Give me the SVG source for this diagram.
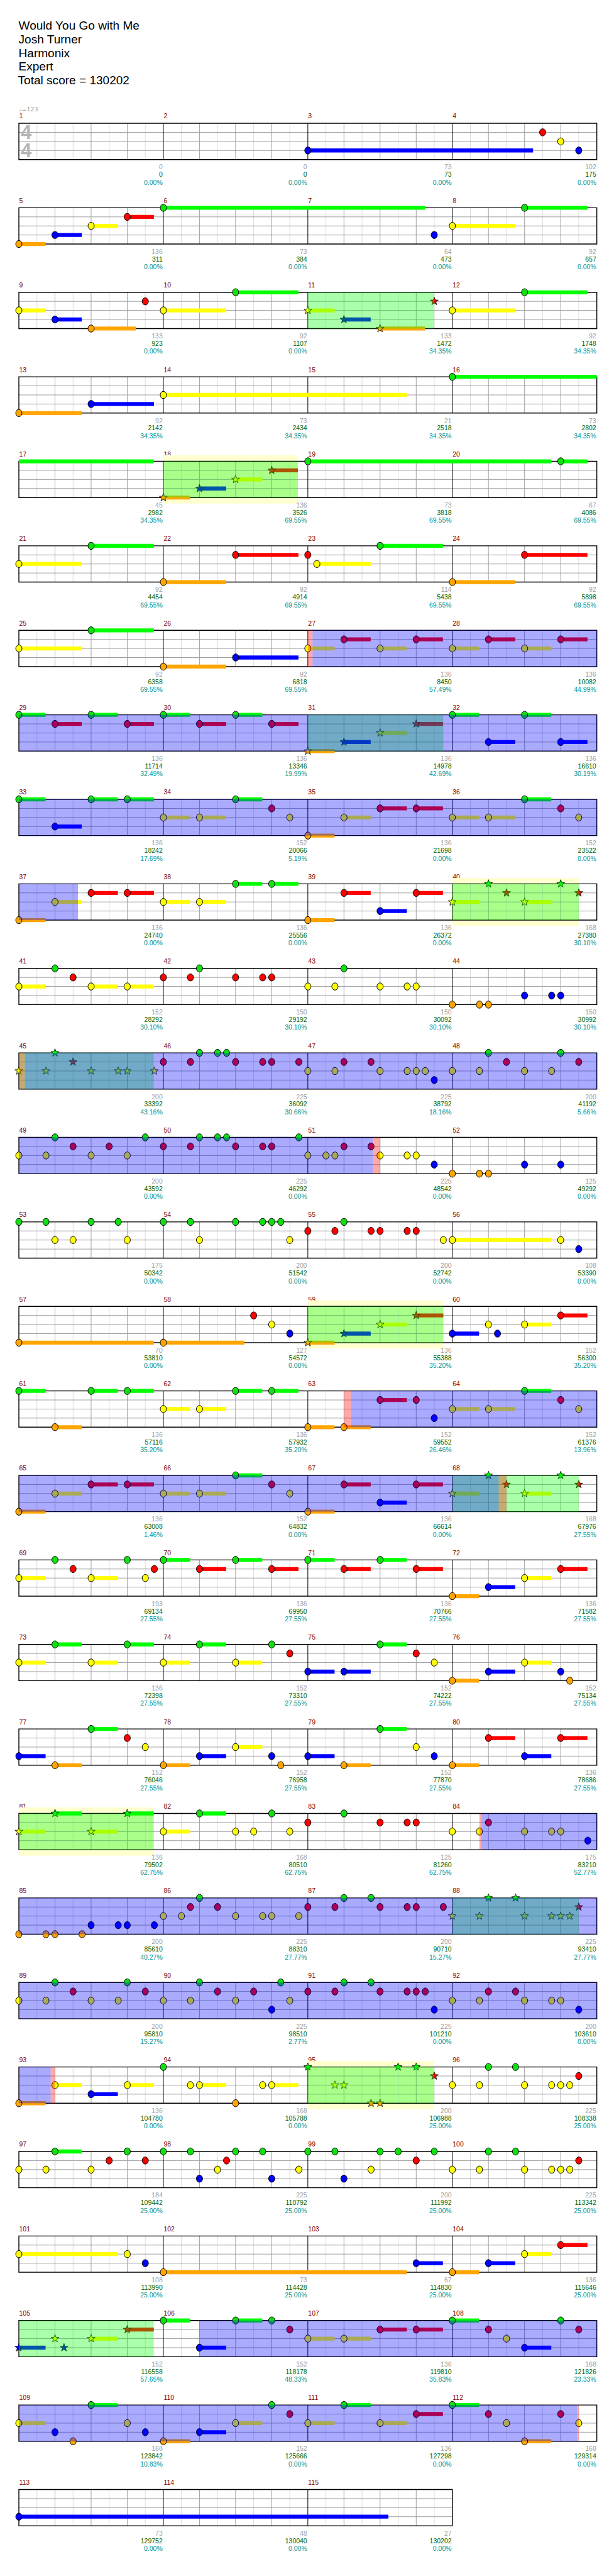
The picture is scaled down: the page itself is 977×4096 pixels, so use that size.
<svg xmlns="http://www.w3.org/2000/svg" width="977" height="4096" viewBox="0 0 977 4096">
<style>
text{font-family:"Liberation Sans",Arial,sans-serif}
.t{font-size:20px;fill:#000}
.m{font-size:11px;fill:#800000}
.a,.b,.c{font-size:11px;text-anchor:end}
.a{fill:#a0a0a0}.b{fill:#006400}.c{fill:#009696}
.gl{fill:none;stroke-width:1px;vector-effect:non-scaling-stroke}
.l8{stroke:#dcdcdc}.lb{stroke:#a0a0a0}.lm{stroke:#000}
.s{fill:none;stroke-width:6.6}
.sG{stroke:#0f0}.sR{stroke:#f00}.sY{stroke:#ff0}.sB{stroke:#00f}.sO{stroke:#ffa500}
.od{fill:#00f;fill-opacity:.333}
.sp{fill:#0f0;fill-opacity:.333}
.pk{fill:#f00;fill-opacity:.333}
.py{fill:#ffffd0}
</style>
<defs>
<ellipse id="nt" rx=".172" ry="6" stroke="#000" stroke-width="1" vector-effect="non-scaling-stroke"/>
<use id="G" href="#nt" fill="#10e010"/>
<use id="R" href="#nt" y="15.12" fill="#f00"/>
<use id="Y" href="#nt" y="30.25" fill="#ff0"/>
<use id="B" href="#nt" y="45.37" fill="#00f"/>
<use id="O" href="#nt" y="60.5" fill="#ffa500"/>
<path id="st" d="M0-7L.0547-2.27L.2208-2.16L.0882.87L.1363 5.66L0 2.8L-.1363 5.66L-.0882.87L-.2208-2.16L-.0547-2.27Z" stroke="#000" stroke-width=".8" vector-effect="non-scaling-stroke"/>
<use id="sG" href="#st" fill="#0f0"/>
<use id="sR" href="#st" y="15.12" fill="#f00"/>
<use id="sY" href="#st" y="30.25" fill="#ff0"/>
<use id="sB" href="#st" y="45.37" fill="#00f"/>
<use id="sO" href="#st" y="60.5" fill="#ffa500"/>
<g id="gr">
<path class="gl l8" d="M1 0V60.5M3 0V60.5M5 0V60.5M7 0V60.5M9 0V60.5M11 0V60.5M13 0V60.5M15 0V60.5M17 0V60.5M19 0V60.5M21 0V60.5M23 0V60.5M25 0V60.5M27 0V60.5M29 0V60.5M31 0V60.5"/>
<path class="gl lb" d="M2 0V60.5M4 0V60.5M6 0V60.5M10 0V60.5M12 0V60.5M14 0V60.5M18 0V60.5M20 0V60.5M22 0V60.5M26 0V60.5M28 0V60.5M30 0V60.5M0 15.12H32M0 30.25H32M0 45.37H32"/>
<path class="gl lm" d="M8 0V60.5M16 0V60.5M24 0V60.5"/>
<rect width="32" height="60.5" fill="none" stroke="#000" stroke-width="1.4" vector-effect="non-scaling-stroke"/>
</g>
<g id="gr3">
<path class="gl l8" d="M1 0V60.5M3 0V60.5M5 0V60.5M7 0V60.5M9 0V60.5M11 0V60.5M13 0V60.5M15 0V60.5M17 0V60.5M19 0V60.5M21 0V60.5M23 0V60.5"/>
<path class="gl lb" d="M2 0V60.5M4 0V60.5M6 0V60.5M10 0V60.5M12 0V60.5M14 0V60.5M18 0V60.5M20 0V60.5M22 0V60.5M0 15.12H24M0 30.25H24M0 45.37H24"/>
<path class="gl lm" d="M8 0V60.5M16 0V60.5"/>
<rect width="24" height="60.5" fill="none" stroke="#000" stroke-width="1.4" vector-effect="non-scaling-stroke"/>
</g>
</defs>
<rect width="977" height="4096" fill="#fff"/>
<g transform="scale(0.953)">
<g id="header">
<text class="t" x="31" y="49">Would You Go with Me</text>
<text class="t" x="31" y="72">Josh Turner</text>
<text class="t" x="31" y="95">Harmonix</text>
<text class="t" x="31" y="118">Expert</text>
<text class="t" x="30" y="141">Total score = 130202</text>
</g>

<g id="r1" transform="translate(0,205.7)">
<text x="31.5" y="-20" style="font-family:'DejaVu Sans',sans-serif;font-size:10px;fill:#a0a0a0">♩=123</text>
<text class="m" x="32" y="-8">1</text><text class="m" x="273.3" y="-8">2</text><text class="m" x="514.5" y="-8">3</text><text class="m" x="755.8" y="-8">4</text>
<g transform="translate(31.5,0) scale(30.156,1)">
<use href="#gr"/>
<path class="s sB" d="M16 45.37H28.47"/>
<use href="#B" x="16"/><use href="#R" x="29"/><use href="#Y" x="30"/><use href="#B" x="31"/>
</g>
<text x="35" y="26.5" style="font-size:32px;font-weight:bold;fill:#b4b4b4">4</text>
<text x="35" y="56.5" style="font-size:32px;font-weight:bold;fill:#b4b4b4">4</text>
<text class="a" x="271.5" y="77">0</text><text class="b" x="271.5" y="89.5">0</text><text class="c" x="271.5" y="102.5">0.00%</text>
<text class="a" x="512.8" y="77">0</text><text class="b" x="512.8" y="89.5">0</text><text class="c" x="512.8" y="102.5">0.00%</text>
<text class="a" x="754" y="77">73</text><text class="b" x="754" y="89.5">73</text><text class="c" x="754" y="102.5">0.00%</text>
<text class="a" x="995.5" y="77">102</text><text class="b" x="995.5" y="89.5">175</text><text class="c" x="995.5" y="102.5">0.00%</text>
</g>

<g id="r2" transform="translate(0,346.7)">
<text class="m" x="32" y="-8">5</text><text class="m" x="273.3" y="-8">6</text><text class="m" x="514.5" y="-8">7</text><text class="m" x="755.8" y="-8">8</text>
<g transform="translate(31.5,0) scale(30.156,1)">
<use href="#gr"/>
<path class="s sO" d="M0 60.5H1.48"/>
<path class="s sB" d="M2 45.37H3.48"/>
<path class="s sY" d="M4 30.25H5.48M24 30.25H27.48"/>
<path class="s sR" d="M6 15.12H7.48"/>
<path class="s sG" d="M8 0H22.5M28 0H31.48"/>
<use href="#O" x="0"/><use href="#B" x="2"/><use href="#Y" x="4"/><use href="#R" x="6"/><use href="#G" x="8"/><use href="#B" x="23"/><use href="#Y" x="24"/><use href="#G" x="28"/>
</g>
<text class="a" x="271.5" y="77">136</text><text class="b" x="271.5" y="89.5">311</text><text class="c" x="271.5" y="102.5">0.00%</text>
<text class="a" x="512.8" y="77">73</text><text class="b" x="512.8" y="89.5">384</text><text class="c" x="512.8" y="102.5">0.00%</text>
<text class="a" x="754" y="77">64</text><text class="b" x="754" y="89.5">473</text><text class="c" x="754" y="102.5">0.00%</text>
<text class="a" x="995.5" y="77">92</text><text class="b" x="995.5" y="89.5">657</text><text class="c" x="995.5" y="102.5">0.00%</text>
</g>

<g id="r3" transform="translate(0,487.7)">
<text class="m" x="32" y="-8">9</text><text class="m" x="273.3" y="-8">10</text><text class="m" x="514.5" y="-8">11</text><text class="m" x="755.8" y="-8">12</text>
<g transform="translate(31.5,0) scale(30.156,1)">
<use href="#gr"/>
<path class="s sY" d="M0 30.25H1.48M8 30.25H11.48M16 30.25H17.48M24 30.25H27.48"/>
<path class="s sB" d="M2 45.37H3.48M18 45.37H19.48"/>
<path class="s sO" d="M4 60.5H6.48M20 60.5H22.48"/>
<path class="s sG" d="M12 0H15.48M28 0H31.48"/>
<use href="#Y" x="0"/><use href="#B" x="2"/><use href="#O" x="4"/><use href="#R" x="7"/><use href="#Y" x="8"/><use href="#G" x="12"/><use href="#Y" x="24"/><use href="#G" x="28"/>
<use href="#sY" x="16"/><use href="#sB" x="18"/><use href="#sO" x="20"/><use href="#sR" x="23"/>
<rect class="sp" x="16" width="7" height="60.5"/>
</g>
<text class="a" x="271.5" y="77">133</text><text class="b" x="271.5" y="89.5">923</text><text class="c" x="271.5" y="102.5">0.00%</text>
<text class="a" x="512.8" y="77">92</text><text class="b" x="512.8" y="89.5">1107</text><text class="c" x="512.8" y="102.5">0.00%</text>
<text class="a" x="754" y="77">133</text><text class="b" x="754" y="89.5">1472</text><text class="c" x="754" y="102.5">34.35%</text>
<text class="a" x="995.5" y="77">92</text><text class="b" x="995.5" y="89.5">1748</text><text class="c" x="995.5" y="102.5">34.35%</text>
</g>

<g id="r4" transform="translate(0,628.7)">
<text class="m" x="32" y="-8">13</text><text class="m" x="273.3" y="-8">14</text><text class="m" x="514.5" y="-8">15</text><text class="m" x="755.8" y="-8">16</text>
<g transform="translate(31.5,0) scale(30.156,1)">
<use href="#gr"/>
<path class="s sO" d="M0 60.5H3.48"/>
<path class="s sB" d="M4 45.37H7.48"/>
<path class="s sY" d="M8 30.25H21.48"/>
<path class="s sG" d="M24 0H32"/>
<use href="#O" x="0"/><use href="#B" x="4"/><use href="#Y" x="8"/><use href="#G" x="24"/>
</g>
<text class="a" x="271.5" y="77">92</text><text class="b" x="271.5" y="89.5">2142</text><text class="c" x="271.5" y="102.5">34.35%</text>
<text class="a" x="512.8" y="77">73</text><text class="b" x="512.8" y="89.5">2434</text><text class="c" x="512.8" y="102.5">34.35%</text>
<text class="a" x="754" y="77">21</text><text class="b" x="754" y="89.5">2518</text><text class="c" x="754" y="102.5">34.35%</text>
<text class="a" x="995.5" y="77">73</text><text class="b" x="995.5" y="89.5">2802</text><text class="c" x="995.5" y="102.5">34.35%</text>
</g>

<g id="r5" transform="translate(0,769.7)">
<text class="m" x="32" y="-8">17</text><text class="m" x="273.3" y="-8">18</text><text class="m" x="514.5" y="-8">19</text><text class="m" x="755.8" y="-8">20</text>
<g transform="translate(31.5,0) scale(30.156,1)">
<rect class="py" x="8" y="-10" width="7.45" height="80.5"/>
<use href="#gr"/>
<path class="s sG" d="M0 0H7.47M16 0H29.48M30 0H31.48"/>
<path class="s sO" d="M8 60.5H9.48"/>
<path class="s sB" d="M10 45.37H11.48"/>
<path class="s sY" d="M12 30.25H13.48"/>
<path class="s sR" d="M14 15.12H15.45"/>
<use href="#sO" x="8"/><use href="#sB" x="10"/><use href="#sY" x="12"/><use href="#sR" x="14"/>
<use href="#G" x="16"/><use href="#G" x="30"/>
<rect class="sp" x="8" width="7.45" height="60.5"/>
</g>
<text class="a" x="271.5" y="77">45</text><text class="b" x="271.5" y="89.5">2982</text><text class="c" x="271.5" y="102.5">34.35%</text>
<text class="a" x="512.8" y="77">136</text><text class="b" x="512.8" y="89.5">3526</text><text class="c" x="512.8" y="102.5">69.55%</text>
<text class="a" x="754" y="77">73</text><text class="b" x="754" y="89.5">3818</text><text class="c" x="754" y="102.5">69.55%</text>
<text class="a" x="995.5" y="77">67</text><text class="b" x="995.5" y="89.5">4086</text><text class="c" x="995.5" y="102.5">69.55%</text>
</g>

<g id="r6" transform="translate(0,910.7)">
<text class="m" x="32" y="-8">21</text><text class="m" x="273.3" y="-8">22</text><text class="m" x="514.5" y="-8">23</text><text class="m" x="755.8" y="-8">24</text>
<g transform="translate(31.5,0) scale(30.156,1)">
<use href="#gr"/>
<path class="s sY" d="M0 30.25H3.48M16.5 30.25H19.48"/>
<path class="s sG" d="M4 0H7.48M20 0H23.48"/>
<path class="s sO" d="M8 60.5H11.48M24 60.5H27.48"/>
<path class="s sR" d="M12 15.12H15.48M28 15.12H31.48"/>
<use href="#Y" x="0"/><use href="#G" x="4"/><use href="#O" x="8"/><use href="#R" x="12"/><use href="#R" x="16"/><use href="#Y" x="16.5"/><use href="#G" x="20"/><use href="#O" x="24"/><use href="#R" x="28"/>
</g>
<text class="a" x="271.5" y="77">92</text><text class="b" x="271.5" y="89.5">4454</text><text class="c" x="271.5" y="102.5">69.55%</text>
<text class="a" x="512.8" y="77">92</text><text class="b" x="512.8" y="89.5">4914</text><text class="c" x="512.8" y="102.5">69.55%</text>
<text class="a" x="754" y="77">114</text><text class="b" x="754" y="89.5">5438</text><text class="c" x="754" y="102.5">69.55%</text>
<text class="a" x="995.5" y="77">92</text><text class="b" x="995.5" y="89.5">5898</text><text class="c" x="995.5" y="102.5">69.55%</text>
</g>

<g id="r7" transform="translate(0,1051.7)">
<text class="m" x="32" y="-8">25</text><text class="m" x="273.3" y="-8">26</text><text class="m" x="514.5" y="-8">27</text><text class="m" x="755.8" y="-8">28</text>
<g transform="translate(31.5,0) scale(30.156,1)">
<use href="#gr"/>
<path class="s sY" d="M0 30.25H3.48M16 30.25H17.48M20 30.25H21.48M24 30.25H25.48M28 30.25H29.48"/>
<path class="s sG" d="M4 0H7.48"/>
<path class="s sO" d="M8 60.5H11.48"/>
<path class="s sB" d="M12 45.37H15.48"/>
<path class="s sR" d="M18 15.12H19.48M22 15.12H23.48M26 15.12H27.48M30 15.12H31.48"/>
<use href="#Y" x="0"/><use href="#G" x="4"/><use href="#O" x="8"/><use href="#B" x="12"/><use href="#Y" x="16"/><use href="#R" x="18"/><use href="#Y" x="20"/><use href="#R" x="22"/><use href="#Y" x="24"/><use href="#R" x="26"/><use href="#Y" x="28"/><use href="#R" x="30"/>
<rect class="pk" x="16" width=".26" height="60.5"/>
<rect class="od" x="16.26" width="15.74" height="60.5"/>
</g>
<text class="a" x="271.5" y="77">92</text><text class="b" x="271.5" y="89.5">6358</text><text class="c" x="271.5" y="102.5">69.55%</text>
<text class="a" x="512.8" y="77">92</text><text class="b" x="512.8" y="89.5">6818</text><text class="c" x="512.8" y="102.5">69.55%</text>
<text class="a" x="754" y="77">136</text><text class="b" x="754" y="89.5">8450</text><text class="c" x="754" y="102.5">57.49%</text>
<text class="a" x="995.5" y="77">136</text><text class="b" x="995.5" y="89.5">10082</text><text class="c" x="995.5" y="102.5">44.99%</text>
</g>

<g id="r8" transform="translate(0,1192.7)">
<text class="m" x="32" y="-8">29</text><text class="m" x="273.3" y="-8">30</text><text class="m" x="514.5" y="-8">31</text><text class="m" x="755.8" y="-8">32</text>
<g transform="translate(31.5,0) scale(30.156,1)">
<use href="#gr"/>
<path class="s sG" d="M0 0H1.48M4 0H5.48M8 0H9.48M12 0H13.48M24 0H25.48M28 0H29.48"/>
<path class="s sR" d="M2 15.12H3.48M6 15.12H7.48M10 15.12H11.48M14 15.12H15.48M22 15.12H23.48"/>
<path class="s sO" d="M16 60.5H17.48"/>
<path class="s sB" d="M18 45.37H19.48M26 45.37H27.48M30 45.37H31.48"/>
<path class="s sY" d="M20 30.25H21.48"/>
<use href="#G" x="0"/><use href="#R" x="2"/><use href="#G" x="4"/><use href="#R" x="6"/><use href="#G" x="8"/><use href="#R" x="10"/><use href="#G" x="12"/><use href="#R" x="14"/><use href="#G" x="24"/><use href="#B" x="26"/><use href="#G" x="28"/><use href="#B" x="30"/>
<use href="#sO" x="16"/><use href="#sB" x="18"/><use href="#sY" x="20"/><use href="#sR" x="22"/>
<rect class="sp" x="16" width="7.5" height="60.5"/>
<rect class="od" x="0" width="32" height="60.5"/>
</g>
<text class="a" x="271.5" y="77">136</text><text class="b" x="271.5" y="89.5">11714</text><text class="c" x="271.5" y="102.5">32.49%</text>
<text class="a" x="512.8" y="77">136</text><text class="b" x="512.8" y="89.5">13346</text><text class="c" x="512.8" y="102.5">19.99%</text>
<text class="a" x="754" y="77">136</text><text class="b" x="754" y="89.5">14978</text><text class="c" x="754" y="102.5">42.69%</text>
<text class="a" x="995.5" y="77">136</text><text class="b" x="995.5" y="89.5">16610</text><text class="c" x="995.5" y="102.5">30.19%</text>
</g>

<g id="r9" transform="translate(0,1333.7)">
<text class="m" x="32" y="-8">33</text><text class="m" x="273.3" y="-8">34</text><text class="m" x="514.5" y="-8">35</text><text class="m" x="755.8" y="-8">36</text>
<g transform="translate(31.5,0) scale(30.156,1)">
<use href="#gr"/>
<path class="s sG" d="M0 0H1.48M4 0H5.48M6 0H7.48M12 0H13.48M28 0H29.48"/>
<path class="s sB" d="M2 45.37H3.48"/>
<path class="s sY" d="M8 30.25H9.48M10 30.25H11.48M18 30.25H19.48M24 30.25H25.48M26 30.25H27.48"/>
<path class="s sO" d="M16 60.5H17.48"/>
<path class="s sR" d="M20 15.12H21.48M22 15.12H23.48"/>
<use href="#G" x="0"/><use href="#B" x="2"/><use href="#G" x="4"/><use href="#G" x="6"/><use href="#Y" x="8"/><use href="#Y" x="10"/><use href="#G" x="12"/><use href="#R" x="14"/><use href="#Y" x="15"/><use href="#O" x="16"/><use href="#Y" x="18"/><use href="#R" x="20"/><use href="#R" x="22"/><use href="#Y" x="24"/><use href="#Y" x="26"/><use href="#G" x="28"/><use href="#R" x="30"/><use href="#Y" x="31"/>
<rect class="od" x="0" width="32" height="60.5"/>
</g>
<text class="a" x="271.5" y="77">136</text><text class="b" x="271.5" y="89.5">18242</text><text class="c" x="271.5" y="102.5">17.69%</text>
<text class="a" x="512.8" y="77">152</text><text class="b" x="512.8" y="89.5">20066</text><text class="c" x="512.8" y="102.5">5.19%</text>
<text class="a" x="754" y="77">136</text><text class="b" x="754" y="89.5">21698</text><text class="c" x="754" y="102.5">0.00%</text>
<text class="a" x="995.5" y="77">152</text><text class="b" x="995.5" y="89.5">23522</text><text class="c" x="995.5" y="102.5">0.00%</text>
</g>

<g id="r10" transform="translate(0,1474.7)">
<text class="m" x="32" y="-8">37</text><text class="m" x="273.3" y="-8">38</text><text class="m" x="514.5" y="-8">39</text><text class="m" x="755.8" y="-8">40</text>
<g transform="translate(31.5,0) scale(30.156,1)">
<rect class="py" x="24" y="-10" width="7" height="80.5"/>
<use href="#gr"/>
<path class="s sO" d="M0 60.5H1.48M16 60.5H17.48"/>
<path class="s sY" d="M2 30.25H3.48M8 30.25H9.48M10 30.25H11.48M24 30.25H25.48M28 30.25H29.48"/>
<path class="s sR" d="M4 15.12H5.48M6 15.12H7.48M18 15.12H19.48M22 15.12H23.48"/>
<path class="s sG" d="M12 0H13.48M14 0H15.48"/>
<path class="s sB" d="M20 45.37H21.48"/>
<use href="#O" x="0"/><use href="#Y" x="2"/><use href="#R" x="4"/><use href="#R" x="6"/><use href="#Y" x="8"/><use href="#Y" x="10"/><use href="#G" x="12"/><use href="#G" x="14"/><use href="#O" x="16"/><use href="#R" x="18"/><use href="#B" x="20"/><use href="#R" x="22"/>
<use href="#sY" x="24"/><use href="#sG" x="26"/><use href="#sR" x="27"/><use href="#sY" x="28"/><use href="#sG" x="30"/><use href="#sR" x="31"/>
<rect class="sp" x="24" width="7" height="60.5"/>
<rect class="od" x="0" width="3.27" height="60.5"/>
</g>
<text class="a" x="271.5" y="77">136</text><text class="b" x="271.5" y="89.5">24740</text><text class="c" x="271.5" y="102.5">0.00%</text>
<text class="a" x="512.8" y="77">136</text><text class="b" x="512.8" y="89.5">25556</text><text class="c" x="512.8" y="102.5">0.00%</text>
<text class="a" x="754" y="77">136</text><text class="b" x="754" y="89.5">26372</text><text class="c" x="754" y="102.5">0.00%</text>
<text class="a" x="995.5" y="77">168</text><text class="b" x="995.5" y="89.5">27380</text><text class="c" x="995.5" y="102.5">30.10%</text>
</g>

<g id="r11" transform="translate(0,1615.7)">
<text class="m" x="32" y="-8">41</text><text class="m" x="273.3" y="-8">42</text><text class="m" x="514.5" y="-8">43</text><text class="m" x="755.8" y="-8">44</text>
<g transform="translate(31.5,0) scale(30.156,1)">
<use href="#gr"/>
<path class="s sY" d="M0 30.25H1.48M4 30.25H5.48M6 30.25H7.48"/>
<use href="#Y" x="0"/><use href="#G" x="2"/><use href="#R" x="3"/><use href="#Y" x="4"/><use href="#Y" x="6"/><use href="#R" x="8"/><use href="#R" x="9.5"/><use href="#G" x="10"/><use href="#R" x="12"/><use href="#R" x="13.5"/><use href="#R" x="14"/><use href="#Y" x="16"/><use href="#Y" x="17.5"/><use href="#G" x="18"/><use href="#Y" x="20"/><use href="#Y" x="21.5"/><use href="#Y" x="22"/><use href="#O" x="24"/><use href="#O" x="25.5"/><use href="#O" x="26"/><use href="#B" x="28"/><use href="#B" x="29.5"/><use href="#B" x="30"/>
</g>
<text class="a" x="271.5" y="77">152</text><text class="b" x="271.5" y="89.5">28292</text><text class="c" x="271.5" y="102.5">30.10%</text>
<text class="a" x="512.8" y="77">150</text><text class="b" x="512.8" y="89.5">29192</text><text class="c" x="512.8" y="102.5">30.10%</text>
<text class="a" x="754" y="77">150</text><text class="b" x="754" y="89.5">30092</text><text class="c" x="754" y="102.5">30.10%</text>
<text class="a" x="995.5" y="77">150</text><text class="b" x="995.5" y="89.5">30992</text><text class="c" x="995.5" y="102.5">30.10%</text>
</g>

<g id="r12" transform="translate(0,1756.7)">
<text class="m" x="32" y="-8">45</text><text class="m" x="273.3" y="-8">46</text><text class="m" x="514.5" y="-8">47</text><text class="m" x="755.8" y="-8">48</text>
<g transform="translate(31.5,0) scale(30.156,1)">
<use href="#gr"/>
<use href="#sY" x="0"/><use href="#sY" x="1.5"/><use href="#sG" x="2"/><use href="#sR" x="3"/><use href="#sY" x="4"/><use href="#sY" x="5.5"/><use href="#sY" x="6"/><use href="#sY" x="7.5"/>
<use href="#R" x="8"/><use href="#R" x="9.5"/><use href="#G" x="10"/><use href="#G" x="11"/><use href="#G" x="11.5"/><use href="#R" x="12"/><use href="#R" x="13.5"/><use href="#R" x="14"/><use href="#R" x="15.5"/><use href="#Y" x="16"/><use href="#Y" x="17.5"/><use href="#R" x="18"/><use href="#R" x="19.5"/><use href="#Y" x="20"/><use href="#Y" x="21.5"/><use href="#Y" x="22"/><use href="#Y" x="22.5"/><use href="#B" x="23"/><use href="#Y" x="24"/><use href="#Y" x="25.5"/><use href="#G" x="26"/><use href="#R" x="27"/><use href="#Y" x="28"/><use href="#Y" x="29.5"/><use href="#G" x="30"/><use href="#R" x="31"/>
<rect class="sp" x="0" width="7.47" height="60.5"/>
<rect class="pk" x="0" width=".33" height="60.5"/>
<rect class="od" x=".33" width="31.67" height="60.5"/>
</g>
<text class="a" x="271.5" y="77">200</text><text class="b" x="271.5" y="89.5">33392</text><text class="c" x="271.5" y="102.5">43.16%</text>
<text class="a" x="512.8" y="77">225</text><text class="b" x="512.8" y="89.5">36092</text><text class="c" x="512.8" y="102.5">30.66%</text>
<text class="a" x="754" y="77">225</text><text class="b" x="754" y="89.5">38792</text><text class="c" x="754" y="102.5">18.16%</text>
<text class="a" x="995.5" y="77">200</text><text class="b" x="995.5" y="89.5">41192</text><text class="c" x="995.5" y="102.5">5.66%</text>
</g>

<g id="r13" transform="translate(0,1897.7)">
<text class="m" x="32" y="-8">49</text><text class="m" x="273.3" y="-8">50</text><text class="m" x="514.5" y="-8">51</text><text class="m" x="755.8" y="-8">52</text>
<g transform="translate(31.5,0) scale(30.156,1)">
<use href="#gr"/>
<use href="#Y" x="0"/><use href="#Y" x="1.5"/><use href="#G" x="2"/><use href="#R" x="3"/><use href="#Y" x="4"/><use href="#R" x="5"/><use href="#Y" x="6"/><use href="#G" x="7"/><use href="#R" x="8"/><use href="#R" x="9.5"/><use href="#G" x="10"/><use href="#G" x="11"/><use href="#G" x="11.5"/><use href="#R" x="12"/><use href="#R" x="13.5"/><use href="#R" x="14"/><use href="#G" x="15.5"/><use href="#Y" x="16"/><use href="#Y" x="17"/><use href="#Y" x="17.5"/><use href="#R" x="18"/><use href="#R" x="19.5"/><use href="#Y" x="20"/><use href="#Y" x="21.5"/><use href="#Y" x="22"/><use href="#B" x="23"/><use href="#O" x="24"/><use href="#O" x="25.5"/><use href="#O" x="26"/><use href="#B" x="28"/><use href="#B" x="30"/>
<rect class="od" x="0" width="19.6" height="60.5"/>
<rect class="pk" x="19.6" width=".4" height="60.5"/>
</g>
<text class="a" x="271.5" y="77">200</text><text class="b" x="271.5" y="89.5">43592</text><text class="c" x="271.5" y="102.5">0.00%</text>
<text class="a" x="512.8" y="77">225</text><text class="b" x="512.8" y="89.5">46292</text><text class="c" x="512.8" y="102.5">0.00%</text>
<text class="a" x="754" y="77">225</text><text class="b" x="754" y="89.5">48542</text><text class="c" x="754" y="102.5">0.00%</text>
<text class="a" x="995.5" y="77">125</text><text class="b" x="995.5" y="89.5">49292</text><text class="c" x="995.5" y="102.5">0.00%</text>
</g>

<g id="r14" transform="translate(0,2038.7)">
<text class="m" x="32" y="-8">53</text><text class="m" x="273.3" y="-8">54</text><text class="m" x="514.5" y="-8">55</text><text class="m" x="755.8" y="-8">56</text>
<g transform="translate(31.5,0) scale(30.156,1)">
<use href="#gr"/>
<path class="s sY" d="M24 30.25H29.48"/>
<use href="#G" x="0"/><use href="#G" x="1.5"/><use href="#Y" x="2"/><use href="#Y" x="3"/><use href="#G" x="4"/><use href="#G" x="5.5"/><use href="#Y" x="6"/><use href="#G" x="8"/><use href="#G" x="9.5"/><use href="#Y" x="10"/><use href="#G" x="12"/><use href="#G" x="13.5"/><use href="#G" x="14"/><use href="#G" x="14.5"/><use href="#Y" x="15"/><use href="#R" x="16"/><use href="#R" x="17.5"/><use href="#G" x="18"/><use href="#R" x="19.5"/><use href="#R" x="20"/><use href="#R" x="21.5"/><use href="#R" x="22"/><use href="#Y" x="23.5"/><use href="#Y" x="24"/><use href="#Y" x="30"/><use href="#B" x="31"/>
</g>
<text class="a" x="271.5" y="77">175</text><text class="b" x="271.5" y="89.5">50342</text><text class="c" x="271.5" y="102.5">0.00%</text>
<text class="a" x="512.8" y="77">200</text><text class="b" x="512.8" y="89.5">51542</text><text class="c" x="512.8" y="102.5">0.00%</text>
<text class="a" x="754" y="77">200</text><text class="b" x="754" y="89.5">52742</text><text class="c" x="754" y="102.5">0.00%</text>
<text class="a" x="995.5" y="77">108</text><text class="b" x="995.5" y="89.5">53390</text><text class="c" x="995.5" y="102.5">0.00%</text>
</g>

<g id="r15" transform="translate(0,2179.7)">
<text class="m" x="32" y="-8">57</text><text class="m" x="273.3" y="-8">58</text><text class="m" x="514.5" y="-8">59</text><text class="m" x="755.8" y="-8">60</text>
<g transform="translate(31.5,0) scale(30.156,1)">
<rect class="py" x="16" y="-10" width="7.5" height="80.5"/>
<use href="#gr"/>
<path class="s sO" d="M0 60.5H7.47M8 60.5H12.49M16 60.5H17.48"/>
<path class="s sB" d="M18 45.37H19.48M24 45.37H25.48"/>
<path class="s sY" d="M20 30.25H21.48M28 30.25H29.48"/>
<path class="s sR" d="M22 15.12H23.5M30 15.12H31.48"/>
<use href="#O" x="0"/><use href="#O" x="8"/><use href="#R" x="13"/><use href="#Y" x="14"/><use href="#B" x="15"/><use href="#B" x="24"/><use href="#Y" x="26"/><use href="#B" x="26.5"/><use href="#Y" x="28"/><use href="#R" x="30"/>
<use href="#sO" x="16"/><use href="#sB" x="18"/><use href="#sY" x="20"/><use href="#sR" x="22"/>
<rect class="sp" x="16" width="7.5" height="60.5"/>
</g>
<text class="a" x="271.5" y="77">70</text><text class="b" x="271.5" y="89.5">53810</text><text class="c" x="271.5" y="102.5">0.00%</text>
<text class="a" x="512.8" y="77">127</text><text class="b" x="512.8" y="89.5">54572</text><text class="c" x="512.8" y="102.5">0.00%</text>
<text class="a" x="754" y="77">136</text><text class="b" x="754" y="89.5">55388</text><text class="c" x="754" y="102.5">35.20%</text>
<text class="a" x="995.5" y="77">152</text><text class="b" x="995.5" y="89.5">56300</text><text class="c" x="995.5" y="102.5">35.20%</text>
</g>

<g id="r16" transform="translate(0,2320.7)">
<text class="m" x="32" y="-8">61</text><text class="m" x="273.3" y="-8">62</text><text class="m" x="514.5" y="-8">63</text><text class="m" x="755.8" y="-8">64</text>
<g transform="translate(31.5,0) scale(30.156,1)">
<use href="#gr"/>
<path class="s sG" d="M0 0H1.48M4 0H5.48M6 0H7.48M12 0H13.48M14 0H15.48M28 0H29.48"/>
<path class="s sO" d="M2 60.5H3.48M16 60.5H17.48M18 60.5H19.48"/>
<path class="s sY" d="M8 30.25H9.48M10 30.25H11.48M24 30.25H25.48M26 30.25H27.48"/>
<path class="s sR" d="M20 15.12H21.48"/>
<use href="#G" x="0"/><use href="#O" x="2"/><use href="#G" x="4"/><use href="#G" x="6"/><use href="#Y" x="8"/><use href="#Y" x="10"/><use href="#G" x="12"/><use href="#G" x="14"/><use href="#O" x="16"/><use href="#O" x="18"/><use href="#R" x="20"/><use href="#R" x="22"/><use href="#B" x="23"/><use href="#Y" x="24"/><use href="#Y" x="26"/><use href="#G" x="28"/><use href="#R" x="30"/><use href="#Y" x="31"/>
<rect class="pk" x="18" width=".4" height="60.5"/>
<rect class="od" x="18.4" width="13.6" height="60.5"/>
</g>
<text class="a" x="271.5" y="77">136</text><text class="b" x="271.5" y="89.5">57116</text><text class="c" x="271.5" y="102.5">35.20%</text>
<text class="a" x="512.8" y="77">136</text><text class="b" x="512.8" y="89.5">57932</text><text class="c" x="512.8" y="102.5">35.20%</text>
<text class="a" x="754" y="77">152</text><text class="b" x="754" y="89.5">59552</text><text class="c" x="754" y="102.5">26.46%</text>
<text class="a" x="995.5" y="77">152</text><text class="b" x="995.5" y="89.5">61376</text><text class="c" x="995.5" y="102.5">13.96%</text>
</g>

<g id="r17" transform="translate(0,2461.7)">
<text class="m" x="32" y="-8">65</text><text class="m" x="273.3" y="-8">66</text><text class="m" x="514.5" y="-8">67</text><text class="m" x="755.8" y="-8">68</text>
<g transform="translate(31.5,0) scale(30.156,1)">
<use href="#gr"/>
<path class="s sO" d="M0 60.5H1.48M16 60.5H17.48"/>
<path class="s sY" d="M2 30.25H3.48M8 30.25H9.48M10 30.25H11.48M24 30.25H25.48M28 30.25H29.48"/>
<path class="s sR" d="M4 15.12H5.48M6 15.12H7.48M18 15.12H19.48M22 15.12H23.48"/>
<path class="s sG" d="M12 0H13.48"/>
<path class="s sB" d="M20 45.37H21.48"/>
<use href="#O" x="0"/><use href="#Y" x="2"/><use href="#R" x="4"/><use href="#R" x="6"/><use href="#Y" x="8"/><use href="#Y" x="10"/><use href="#G" x="12"/><use href="#R" x="14"/><use href="#Y" x="15"/><use href="#O" x="16"/><use href="#R" x="18"/><use href="#B" x="20"/><use href="#R" x="22"/>
<use href="#sY" x="24"/><use href="#sG" x="26"/><use href="#sR" x="27"/><use href="#sY" x="28"/><use href="#sG" x="30"/><use href="#sR" x="31"/>
<rect class="sp" x="24" width="7" height="60.5"/>
<rect class="od" x="0" width="26.57" height="60.5"/>
<rect class="pk" x="26.57" width=".43" height="60.5"/>
</g>
<text class="a" x="271.5" y="77">136</text><text class="b" x="271.5" y="89.5">63008</text><text class="c" x="271.5" y="102.5">1.46%</text>
<text class="a" x="512.8" y="77">152</text><text class="b" x="512.8" y="89.5">64832</text><text class="c" x="512.8" y="102.5">0.00%</text>
<text class="a" x="754" y="77">136</text><text class="b" x="754" y="89.5">66614</text><text class="c" x="754" y="102.5">0.00%</text>
<text class="a" x="995.5" y="77">168</text><text class="b" x="995.5" y="89.5">67976</text><text class="c" x="995.5" y="102.5">27.55%</text>
</g>

<g id="r18" transform="translate(0,2602.7)">
<text class="m" x="32" y="-8">69</text><text class="m" x="273.3" y="-8">70</text><text class="m" x="514.5" y="-8">71</text><text class="m" x="755.8" y="-8">72</text>
<g transform="translate(31.5,0) scale(30.156,1)">
<use href="#gr"/>
<path class="s sY" d="M0 30.25H1.48M4 30.25H5.48M28 30.25H29.48"/>
<path class="s sG" d="M8 0H9.48M12 0H13.48M16 0H17.48M20 0H21.48"/>
<path class="s sR" d="M10 15.12H11.48M14 15.12H15.48M18 15.12H19.48M22 15.12H23.48M30 15.12H31.48"/>
<path class="s sO" d="M24 60.5H25.48"/>
<path class="s sB" d="M26 45.37H27.48"/>
<use href="#Y" x="0"/><use href="#G" x="2"/><use href="#R" x="3"/><use href="#Y" x="4"/><use href="#G" x="6"/><use href="#Y" x="7"/><use href="#R" x="7.5"/><use href="#G" x="8"/><use href="#R" x="10"/><use href="#G" x="12"/><use href="#R" x="14"/><use href="#G" x="16"/><use href="#R" x="18"/><use href="#G" x="20"/><use href="#R" x="22"/><use href="#O" x="24"/><use href="#B" x="26"/><use href="#Y" x="28"/><use href="#R" x="30"/>
</g>
<text class="a" x="271.5" y="77">193</text><text class="b" x="271.5" y="89.5">69134</text><text class="c" x="271.5" y="102.5">27.55%</text>
<text class="a" x="512.8" y="77">136</text><text class="b" x="512.8" y="89.5">69950</text><text class="c" x="512.8" y="102.5">27.55%</text>
<text class="a" x="754" y="77">136</text><text class="b" x="754" y="89.5">70766</text><text class="c" x="754" y="102.5">27.55%</text>
<text class="a" x="995.5" y="77">136</text><text class="b" x="995.5" y="89.5">71582</text><text class="c" x="995.5" y="102.5">27.55%</text>
</g>

<g id="r19" transform="translate(0,2743.7)">
<text class="m" x="32" y="-8">73</text><text class="m" x="273.3" y="-8">74</text><text class="m" x="514.5" y="-8">75</text><text class="m" x="755.8" y="-8">76</text>
<g transform="translate(31.5,0) scale(30.156,1)">
<use href="#gr"/>
<path class="s sY" d="M0 30.25H1.48M4 30.25H5.48M8 30.25H9.48M12 30.25H13.48M28 30.25H29.48"/>
<path class="s sG" d="M2 0H3.48M6 0H7.48M10 0H11.48M20 0H21.48"/>
<path class="s sB" d="M16 45.37H17.48M18 45.37H19.48M26 45.37H27.48"/>
<path class="s sO" d="M24 60.5H25.48"/>
<use href="#Y" x="0"/><use href="#G" x="2"/><use href="#Y" x="4"/><use href="#G" x="6"/><use href="#Y" x="8"/><use href="#G" x="10"/><use href="#Y" x="12"/><use href="#G" x="14"/><use href="#R" x="15"/><use href="#B" x="16"/><use href="#B" x="18"/><use href="#G" x="20"/><use href="#R" x="22"/><use href="#Y" x="23"/><use href="#O" x="24"/><use href="#B" x="26"/><use href="#Y" x="28"/><use href="#B" x="30"/><use href="#O" x="30.5"/>
</g>
<text class="a" x="271.5" y="77">136</text><text class="b" x="271.5" y="89.5">72398</text><text class="c" x="271.5" y="102.5">27.55%</text>
<text class="a" x="512.8" y="77">152</text><text class="b" x="512.8" y="89.5">73310</text><text class="c" x="512.8" y="102.5">27.55%</text>
<text class="a" x="754" y="77">152</text><text class="b" x="754" y="89.5">74222</text><text class="c" x="754" y="102.5">27.55%</text>
<text class="a" x="995.5" y="77">152</text><text class="b" x="995.5" y="89.5">75134</text><text class="c" x="995.5" y="102.5">27.55%</text>
</g>

<g id="r20" transform="translate(0,2884.7)">
<text class="m" x="32" y="-8">77</text><text class="m" x="273.3" y="-8">78</text><text class="m" x="514.5" y="-8">79</text><text class="m" x="755.8" y="-8">80</text>
<g transform="translate(31.5,0) scale(30.156,1)">
<use href="#gr"/>
<path class="s sB" d="M0 45.37H1.48M10 45.37H11.48M16 45.37H17.48M28 45.37H29.48"/>
<path class="s sO" d="M2 60.5H3.48M8 60.5H9.48M18 60.5H19.48M24 60.5H25.48"/>
<path class="s sG" d="M4 0H5.48M20 0H21.48"/>
<path class="s sY" d="M12 30.25H13.48"/>
<path class="s sR" d="M26 15.12H27.48M30 15.12H31.48"/>
<use href="#B" x="0"/><use href="#O" x="2"/><use href="#G" x="4"/><use href="#R" x="6"/><use href="#Y" x="7"/><use href="#O" x="8"/><use href="#B" x="10"/><use href="#Y" x="12"/><use href="#B" x="14"/><use href="#O" x="14.5"/><use href="#B" x="16"/><use href="#O" x="18"/><use href="#G" x="20"/><use href="#Y" x="22"/><use href="#B" x="23"/><use href="#O" x="24"/><use href="#R" x="26"/><use href="#B" x="28"/><use href="#R" x="30"/>
</g>
<text class="a" x="271.5" y="77">152</text><text class="b" x="271.5" y="89.5">76046</text><text class="c" x="271.5" y="102.5">27.55%</text>
<text class="a" x="512.8" y="77">152</text><text class="b" x="512.8" y="89.5">76958</text><text class="c" x="512.8" y="102.5">27.55%</text>
<text class="a" x="754" y="77">152</text><text class="b" x="754" y="89.5">77870</text><text class="c" x="754" y="102.5">27.55%</text>
<text class="a" x="995.5" y="77">136</text><text class="b" x="995.5" y="89.5">78686</text><text class="c" x="995.5" y="102.5">27.55%</text>
</g>

<g id="r21" transform="translate(0,3025.7)">
<text class="m" x="32" y="-8">81</text><text class="m" x="273.3" y="-8">82</text><text class="m" x="514.5" y="-8">83</text><text class="m" x="755.8" y="-8">84</text>
<g transform="translate(31.5,0) scale(30.156,1)">
<rect class="py" x="0" y="-10" width="7.47" height="80.5"/>
<use href="#gr"/>
<path class="s sY" d="M0 30.25H1.48M4 30.25H5.48M8 30.25H9.48"/>
<path class="s sG" d="M2 0H3.48M6 0H7.47M10 0H11.48"/>
<use href="#sY" x="0"/><use href="#sG" x="2"/><use href="#sY" x="4"/><use href="#sG" x="6"/>
<use href="#Y" x="8"/><use href="#G" x="10"/><use href="#Y" x="12"/><use href="#Y" x="13"/><use href="#G" x="14"/><use href="#Y" x="15"/><use href="#R" x="16"/><use href="#G" x="18"/><use href="#R" x="20"/><use href="#R" x="21.5"/><use href="#R" x="22"/><use href="#Y" x="24"/><use href="#Y" x="25.5"/><use href="#R" x="26"/><use href="#Y" x="28"/><use href="#Y" x="29.5"/><use href="#Y" x="30"/><use href="#B" x="31.5"/>
<rect class="sp" x="0" width="7.47" height="60.5"/>
<rect class="pk" x="25.5" width=".1" height="60.5"/>
<rect class="od" x="25.6" width="6.4" height="60.5"/>
</g>
<text class="a" x="271.5" y="77">136</text><text class="b" x="271.5" y="89.5">79502</text><text class="c" x="271.5" y="102.5">62.75%</text>
<text class="a" x="512.8" y="77">168</text><text class="b" x="512.8" y="89.5">80510</text><text class="c" x="512.8" y="102.5">62.75%</text>
<text class="a" x="754" y="77">125</text><text class="b" x="754" y="89.5">81260</text><text class="c" x="754" y="102.5">62.75%</text>
<text class="a" x="995.5" y="77">175</text><text class="b" x="995.5" y="89.5">83210</text><text class="c" x="995.5" y="102.5">52.77%</text>
</g>

<g id="r22" transform="translate(0,3166.7)">
<text class="m" x="32" y="-8">85</text><text class="m" x="273.3" y="-8">86</text><text class="m" x="514.5" y="-8">87</text><text class="m" x="755.8" y="-8">88</text>
<g transform="translate(31.5,0) scale(30.156,1)">
<use href="#gr"/>
<use href="#O" x="0"/><use href="#O" x="1.5"/><use href="#O" x="2"/><use href="#O" x="3.5"/><use href="#B" x="4"/><use href="#B" x="5.5"/><use href="#B" x="6"/><use href="#B" x="7.5"/><use href="#Y" x="8"/><use href="#Y" x="9"/><use href="#R" x="9.5"/><use href="#G" x="10"/><use href="#R" x="11"/><use href="#Y" x="12"/><use href="#Y" x="13.5"/><use href="#Y" x="14"/><use href="#Y" x="15.5"/><use href="#R" x="16"/><use href="#R" x="17.5"/><use href="#G" x="18"/><use href="#G" x="19.5"/><use href="#R" x="20"/><use href="#R" x="21.5"/><use href="#R" x="22"/><use href="#R" x="23.5"/>
<use href="#sY" x="24"/><use href="#sY" x="25.5"/><use href="#sG" x="26"/><use href="#sG" x="27.5"/><use href="#sY" x="28"/><use href="#sY" x="29.5"/><use href="#sY" x="30"/><use href="#sY" x="30.5"/><use href="#sR" x="31"/>
<rect class="sp" x="24" width="7" height="60.5"/>
<rect class="od" x="0" width="32" height="60.5"/>
</g>
<text class="a" x="271.5" y="77">200</text><text class="b" x="271.5" y="89.5">85610</text><text class="c" x="271.5" y="102.5">40.27%</text>
<text class="a" x="512.8" y="77">225</text><text class="b" x="512.8" y="89.5">88310</text><text class="c" x="512.8" y="102.5">27.77%</text>
<text class="a" x="754" y="77">200</text><text class="b" x="754" y="89.5">90710</text><text class="c" x="754" y="102.5">15.27%</text>
<text class="a" x="995.5" y="77">225</text><text class="b" x="995.5" y="89.5">93410</text><text class="c" x="995.5" y="102.5">27.77%</text>
</g>

<g id="r23" transform="translate(0,3307.7)">
<text class="m" x="32" y="-8">89</text><text class="m" x="273.3" y="-8">90</text><text class="m" x="514.5" y="-8">91</text><text class="m" x="755.8" y="-8">92</text>
<g transform="translate(31.5,0) scale(30.156,1)">
<use href="#gr"/>
<use href="#Y" x="0"/><use href="#Y" x="1.5"/><use href="#G" x="2"/><use href="#R" x="3"/><use href="#Y" x="4"/><use href="#Y" x="5.5"/><use href="#G" x="6"/><use href="#R" x="7"/><use href="#Y" x="8"/><use href="#Y" x="9.5"/><use href="#G" x="10"/><use href="#R" x="11"/><use href="#Y" x="12"/><use href="#R" x="13"/><use href="#B" x="14"/><use href="#G" x="14.5"/><use href="#Y" x="15"/><use href="#R" x="16"/><use href="#R" x="17.5"/><use href="#G" x="18"/><use href="#G" x="19.5"/><use href="#R" x="20"/><use href="#R" x="21.5"/><use href="#R" x="22"/><use href="#R" x="22.5"/><use href="#B" x="23"/><use href="#Y" x="24"/><use href="#Y" x="25.5"/><use href="#R" x="26"/><use href="#R" x="27.5"/><use href="#Y" x="28"/><use href="#Y" x="29.5"/><use href="#Y" x="30"/><use href="#B" x="31"/>
<rect class="od" x="0" width="32" height="60.5"/>
</g>
<text class="a" x="271.5" y="77">200</text><text class="b" x="271.5" y="89.5">95810</text><text class="c" x="271.5" y="102.5">15.27%</text>
<text class="a" x="512.8" y="77">225</text><text class="b" x="512.8" y="89.5">98510</text><text class="c" x="512.8" y="102.5">2.77%</text>
<text class="a" x="754" y="77">225</text><text class="b" x="754" y="89.5">101210</text><text class="c" x="754" y="102.5">0.00%</text>
<text class="a" x="995.5" y="77">200</text><text class="b" x="995.5" y="89.5">103610</text><text class="c" x="995.5" y="102.5">0.00%</text>
</g>

<g id="r24" transform="translate(0,3448.7)">
<text class="m" x="32" y="-8">93</text><text class="m" x="273.3" y="-8">94</text><text class="m" x="514.5" y="-8">95</text><text class="m" x="755.8" y="-8">96</text>
<g transform="translate(31.5,0) scale(30.156,1)">
<rect class="py" x="16" y="-10" width="7" height="80.5"/>
<use href="#gr"/>
<path class="s sO" d="M0 60.5H1.48"/>
<path class="s sY" d="M2 30.25H3.48M6 30.25H7.48M10 30.25H11.48M14 30.25H15.48"/>
<path class="s sB" d="M4 45.37H5.48"/>
<use href="#O" x="0"/><use href="#Y" x="2"/><use href="#B" x="4"/><use href="#Y" x="6"/><use href="#G" x="8"/><use href="#Y" x="9.5"/><use href="#Y" x="10"/><use href="#O" x="12"/><use href="#Y" x="13.5"/><use href="#Y" x="14"/><use href="#Y" x="24"/><use href="#Y" x="25.5"/><use href="#G" x="26"/><use href="#G" x="27.5"/><use href="#Y" x="28"/><use href="#Y" x="29.5"/><use href="#Y" x="30"/><use href="#Y" x="30.5"/><use href="#R" x="31"/>
<use href="#sG" x="16"/><use href="#sY" x="17.5"/><use href="#sY" x="18"/><use href="#sO" x="19.5"/><use href="#sO" x="20"/><use href="#sG" x="21"/><use href="#sG" x="22"/><use href="#sR" x="23"/>
<rect class="sp" x="16" width="7" height="60.5"/>
<rect class="od" x="0" width="1.76" height="60.5"/>
<rect class="pk" x="1.76" width=".24" height="60.5"/>
</g>
<text class="a" x="271.5" y="77">136</text><text class="b" x="271.5" y="89.5">104780</text><text class="c" x="271.5" y="102.5">0.00%</text>
<text class="a" x="512.8" y="77">168</text><text class="b" x="512.8" y="89.5">105788</text><text class="c" x="512.8" y="102.5">0.00%</text>
<text class="a" x="754" y="77">200</text><text class="b" x="754" y="89.5">106988</text><text class="c" x="754" y="102.5">25.00%</text>
<text class="a" x="995.5" y="77">225</text><text class="b" x="995.5" y="89.5">108338</text><text class="c" x="995.5" y="102.5">25.00%</text>
</g>

<g id="r25" transform="translate(0,3589.7)">
<text class="m" x="32" y="-8">97</text><text class="m" x="273.3" y="-8">98</text><text class="m" x="514.5" y="-8">99</text><text class="m" x="755.8" y="-8">100</text>
<g transform="translate(31.5,0) scale(30.156,1)">
<use href="#gr"/>
<path class="s sG" d="M2 0H3.48"/>
<use href="#Y" x="0"/><use href="#Y" x="1.5"/><use href="#G" x="2"/><use href="#Y" x="4"/><use href="#R" x="5"/><use href="#G" x="6"/><use href="#R" x="7"/><use href="#G" x="8"/><use href="#G" x="9.5"/><use href="#B" x="10"/><use href="#Y" x="11"/><use href="#R" x="11.5"/><use href="#G" x="12"/><use href="#G" x="13.5"/><use href="#B" x="14"/><use href="#Y" x="15.5"/><use href="#G" x="16"/><use href="#G" x="17.5"/><use href="#B" x="18"/><use href="#Y" x="19.5"/><use href="#G" x="20"/><use href="#G" x="21"/><use href="#R" x="22"/><use href="#G" x="23"/><use href="#Y" x="24"/><use href="#Y" x="25.5"/><use href="#G" x="26"/><use href="#G" x="27.5"/><use href="#Y" x="28"/><use href="#Y" x="29.5"/><use href="#Y" x="30"/><use href="#Y" x="30.5"/><use href="#R" x="31"/>
</g>
<text class="a" x="271.5" y="77">184</text><text class="b" x="271.5" y="89.5">109442</text><text class="c" x="271.5" y="102.5">25.00%</text>
<text class="a" x="512.8" y="77">225</text><text class="b" x="512.8" y="89.5">110792</text><text class="c" x="512.8" y="102.5">25.00%</text>
<text class="a" x="754" y="77">200</text><text class="b" x="754" y="89.5">111992</text><text class="c" x="754" y="102.5">25.00%</text>
<text class="a" x="995.5" y="77">225</text><text class="b" x="995.5" y="89.5">113342</text><text class="c" x="995.5" y="102.5">25.00%</text>
</g>

<g id="r26" transform="translate(0,3730.7)">
<text class="m" x="32" y="-8">101</text><text class="m" x="273.3" y="-8">102</text><text class="m" x="514.5" y="-8">103</text><text class="m" x="755.8" y="-8">104</text>
<g transform="translate(31.5,0) scale(30.156,1)">
<use href="#gr"/>
<path class="s sY" d="M0 30.25H5.49M28 30.25H29.48"/>
<path class="s sO" d="M8 60.5H21.48M24 60.5H25.48"/>
<path class="s sB" d="M22 45.37H23.48M26 45.37H27.48"/>
<path class="s sR" d="M30 15.12H31.48"/>
<use href="#Y" x="0"/><use href="#Y" x="6"/><use href="#B" x="7"/><use href="#O" x="8"/><use href="#B" x="22"/><use href="#O" x="24"/><use href="#B" x="26"/><use href="#Y" x="28"/><use href="#R" x="30"/>
</g>
<text class="a" x="271.5" y="77">108</text><text class="b" x="271.5" y="89.5">113990</text><text class="c" x="271.5" y="102.5">25.00%</text>
<text class="a" x="512.8" y="77">73</text><text class="b" x="512.8" y="89.5">114428</text><text class="c" x="512.8" y="102.5">25.00%</text>
<text class="a" x="754" y="77">67</text><text class="b" x="754" y="89.5">114830</text><text class="c" x="754" y="102.5">25.00%</text>
<text class="a" x="995.5" y="77">136</text><text class="b" x="995.5" y="89.5">115646</text><text class="c" x="995.5" y="102.5">25.00%</text>
</g>

<g id="r27" transform="translate(0,3871.7)">
<text class="m" x="32" y="-8">105</text><text class="m" x="273.3" y="-8">106</text><text class="m" x="514.5" y="-8">107</text><text class="m" x="755.8" y="-8">108</text>
<g transform="translate(31.5,0) scale(30.156,1)">
<use href="#gr"/>
<path class="s sB" d="M0 45.37H1.48M10 45.37H11.48M28 45.37H29.48"/>
<path class="s sY" d="M4 30.25H5.48M16 30.25H17.48M18 30.25H19.48"/>
<path class="s sR" d="M6 15.12H7.47M20 15.12H21.48M22 15.12H23.48"/>
<path class="s sG" d="M8 0H9.48M12 0H13.48M24 0H25.48"/>
<use href="#sB" x="0"/><use href="#sY" x="2"/><use href="#sB" x="2.5"/><use href="#sY" x="4"/><use href="#sR" x="6"/>
<use href="#G" x="8"/><use href="#B" x="10"/><use href="#G" x="12"/><use href="#G" x="14"/><use href="#R" x="15"/><use href="#Y" x="16"/><use href="#Y" x="18"/><use href="#R" x="20"/><use href="#R" x="22"/><use href="#G" x="24"/><use href="#R" x="26"/><use href="#Y" x="27"/><use href="#B" x="28"/><use href="#G" x="30"/><use href="#R" x="31"/>
<rect class="sp" x="0" width="7.47" height="60.5"/>
<rect class="od" x="10" width="22" height="60.5"/>
</g>
<text class="a" x="271.5" y="77">152</text><text class="b" x="271.5" y="89.5">116558</text><text class="c" x="271.5" y="102.5">57.65%</text>
<text class="a" x="512.8" y="77">152</text><text class="b" x="512.8" y="89.5">118178</text><text class="c" x="512.8" y="102.5">48.33%</text>
<text class="a" x="754" y="77">136</text><text class="b" x="754" y="89.5">119810</text><text class="c" x="754" y="102.5">35.83%</text>
<text class="a" x="995.5" y="77">168</text><text class="b" x="995.5" y="89.5">121826</text><text class="c" x="995.5" y="102.5">23.33%</text>
</g>

<g id="r28" transform="translate(0,4012.7)">
<text class="m" x="32" y="-8">109</text><text class="m" x="273.3" y="-8">110</text><text class="m" x="514.5" y="-8">111</text><text class="m" x="755.8" y="-8">112</text>
<g transform="translate(31.5,0) scale(30.156,1)">
<use href="#gr"/>
<path class="s sY" d="M0 30.25H1.48M12 30.25H13.48M16 30.25H17.48M20 30.25H21.48"/>
<path class="s sG" d="M4 0H5.48M18 0H19.48M24 0H25.48"/>
<path class="s sO" d="M8 60.5H9.48M28 60.5H29.48"/>
<path class="s sB" d="M10 45.37H11.48"/>
<path class="s sR" d="M22 15.12H23.48"/>
<use href="#Y" x="0"/><use href="#B" x="2"/><use href="#O" x="3"/><use href="#G" x="4"/><use href="#Y" x="6"/><use href="#B" x="7"/><use href="#O" x="8"/><use href="#B" x="10"/><use href="#Y" x="12"/><use href="#G" x="14"/><use href="#R" x="15"/><use href="#Y" x="16"/><use href="#G" x="18"/><use href="#Y" x="20"/><use href="#R" x="22"/><use href="#G" x="24"/><use href="#R" x="26"/><use href="#Y" x="27"/><use href="#O" x="28"/><use href="#R" x="30"/><use href="#Y" x="31"/>
<rect class="od" x="0" width="30.9" height="60.5"/>
<rect class="pk" x="30.9" width=".1" height="60.5"/>
</g>
<text class="a" x="271.5" y="77">168</text><text class="b" x="271.5" y="89.5">123842</text><text class="c" x="271.5" y="102.5">10.83%</text>
<text class="a" x="512.8" y="77">152</text><text class="b" x="512.8" y="89.5">125666</text><text class="c" x="512.8" y="102.5">0.00%</text>
<text class="a" x="754" y="77">136</text><text class="b" x="754" y="89.5">127298</text><text class="c" x="754" y="102.5">0.00%</text>
<text class="a" x="995.5" y="77">168</text><text class="b" x="995.5" y="89.5">129314</text><text class="c" x="995.5" y="102.5">0.00%</text>
</g>

<g id="r29" transform="translate(0,4153.7)">
<text class="m" x="32" y="-8">113</text><text class="m" x="273.3" y="-8">114</text><text class="m" x="514.5" y="-8">115</text>
<g transform="translate(31.5,0) scale(30.156,1)">
<use href="#gr3"/>
<path class="s sB" d="M0 45.37H20.46"/>
<use href="#B" x="0"/>
</g>
<text class="a" x="271.5" y="77">73</text><text class="b" x="271.5" y="89.5">129752</text><text class="c" x="271.5" y="102.5">0.00%</text>
<text class="a" x="512.8" y="77">48</text><text class="b" x="512.8" y="89.5">130040</text><text class="c" x="512.8" y="102.5">0.00%</text>
<text class="a" x="754" y="77">27</text><text class="b" x="754" y="89.5">130202</text><text class="c" x="754" y="102.5">0.00%</text>
</g>
</g>
</svg>
